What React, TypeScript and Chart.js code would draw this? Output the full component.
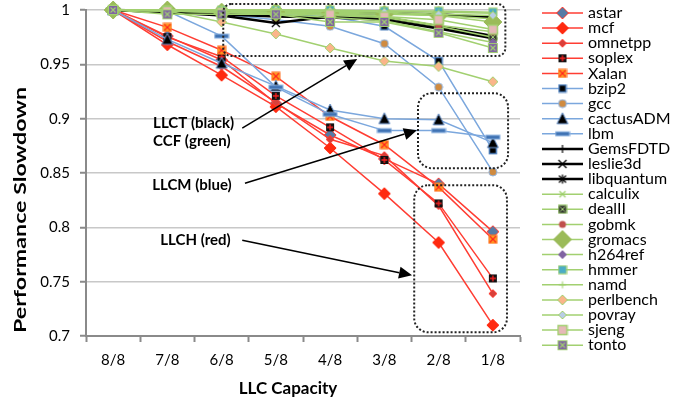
import React, { useEffect, useRef } from 'react';
import { Chart, registerables } from 'chart.js';

Chart.register(...registerables);

// ---------- data ----------
const categories = ['8/8', '7/8', '6/8', '5/8', '4/8', '3/8', '2/8', '1/8'];
const yTicks = [0.7, 0.75, 0.8, 0.85, 0.9, 0.95, 1];

const astar = [1, 0.976, 0.954, 0.914, 0.885, 0.863, 0.84, 0.796];
const mcf = [1, 0.968, 0.94, 0.911, 0.873, 0.831, 0.786, 0.71];
const omnetpp = [1, 0.971, 0.948, 0.915, 0.881, 0.866, 0.82, 0.739];
const soplex = [1, 0.975, 0.957, 0.921, 0.892, 0.862, 0.822, 0.753];
const Xalan = [1, 0.984, 0.963, 0.939, 0.902, 0.876, 0.837, 0.789];

const bzip2 = [1, 0.999, 0.998, 0.996, 0.994, 0.985, 0.953, 0.871];
const gcc = [1, 0.999, 0.996, 0.991, 0.985, 0.969, 0.929, 0.851];
const cactusADM = [1, 0.973, 0.951, 0.93, 0.908, 0.9, 0.899, 0.878];
const lbm = [1, 0.999, 0.976, 0.929, 0.904, 0.889, 0.889, 0.883];

const GemsFDTD = [1, 0.999, 0.998, 0.998, 0.997, 0.997, 0.996, 0.993];
const leslie3d = [1, 0.998, 0.995, 0.988, 0.994, 0.993, 0.985, 0.976];
const libquantum = [1, 0.998, 0.996, 0.994, 0.993, 0.991, 0.983, 0.974];

const calculix = [1, 1, 0.999, 0.999, 0.998, 0.997, 0.995, 0.992];
const dealII = [1, 0.999, 0.998, 0.997, 0.995, 0.993, 0.985, 0.975];
const gobmk = [1, 1, 0.999, 0.998, 0.997, 0.994, 0.986, 0.98];
const gromacs = [1, 1, 0.998, 0.998, 0.997, 0.996, 0.995, 0.989];
const h264ref = [1, 0.999, 0.998, 0.996, 0.993, 0.99, 0.98, 0.97];
const hmmer = [1, 1, 1, 1, 1, 0.999, 0.999, 0.998];
const namd = [1, 1, 1, 1, 0.999, 0.999, 0.998, 0.997];
const perlbench = [1, 0.999, 0.989, 0.978, 0.965, 0.953, 0.948, 0.934];
const povray = [1, 1, 1, 1, 0.999, 0.998, 0.996, 0.995];
const sjeng = [1, 0.999, 0.998, 0.997, 0.996, 0.994, 0.991, 0.982];
const tonto = [1, 0.996, 0.996, 0.996, 0.989, 0.989, 0.979, 0.965];

// ---------- styles ----------
const RED = '#ff3d33';
const BLUE = '#7ba7dd';
const BLACK = '#000000';
const GREEN = '#a2d070';
const FONT = 'Lato, "Open Sans", sans-serif';

type Ctx = CanvasRenderingContext2D;

function mk(w: number, h: number, draw: (ctx: Ctx, cx: number, cy: number) => void) {
  const c = document.createElement('canvas');
  c.width = w;
  c.height = h;
  const ctx = c.getContext('2d') as Ctx;
  draw(ctx, w / 2, h / 2);
  return c;
}
function diamond(ctx: Ctx, cx: number, cy: number, r: number, fill: string, stroke?: string, lw = 1) {
  ctx.beginPath();
  ctx.moveTo(cx, cy - r);
  ctx.lineTo(cx + r, cy);
  ctx.lineTo(cx, cy + r);
  ctx.lineTo(cx - r, cy);
  ctx.closePath();
  ctx.fillStyle = fill;
  ctx.fill();
  if (stroke) {
    ctx.strokeStyle = stroke;
    ctx.lineWidth = lw;
    ctx.stroke();
  }
}
function square(ctx: Ctx, cx: number, cy: number, h: number, fill: string, stroke?: string, lw = 1) {
  ctx.fillStyle = fill;
  ctx.fillRect(cx - h, cy - h, 2 * h, 2 * h);
  if (stroke) {
    ctx.strokeStyle = stroke;
    ctx.lineWidth = lw;
    ctx.strokeRect(cx - h, cy - h, 2 * h, 2 * h);
  }
}
function cross(ctx: Ctx, cx: number, cy: number, r: number, color: string, lw = 1.2) {
  ctx.strokeStyle = color;
  ctx.lineWidth = lw;
  ctx.beginPath();
  ctx.moveTo(cx - r, cy - r);
  ctx.lineTo(cx + r, cy + r);
  ctx.moveTo(cx + r, cy - r);
  ctx.lineTo(cx - r, cy + r);
  ctx.stroke();
}
function plus(ctx: Ctx, cx: number, cy: number, r: number, color: string, lw = 1.2) {
  ctx.strokeStyle = color;
  ctx.lineWidth = lw;
  ctx.beginPath();
  ctx.moveTo(cx - r, cy);
  ctx.lineTo(cx + r, cy);
  ctx.moveTo(cx, cy - r);
  ctx.lineTo(cx, cy + r);
  ctx.stroke();
}

const markers: Record<string, HTMLCanvasElement> = {
  astar: mk(14, 14, (c, x, y) => diamond(c, x, y, 6, '#557ba6', RED, 1)),
  mcf: mk(14, 14, (c, x, y) => diamond(c, x, y, 6, '#ff2a10', '#ff2a10', 1)),
  omnetpp: mk(10, 10, (c, x, y) => diamond(c, x, y, 4, '#d8403a', RED, 1)),
  soplex: mk(10, 10, (c, x, y) => { square(c, x, y, 4, '#111111'); plus(c, x, y, 3, '#ff2020', 1.3); }),
  Xalan: mk(10, 10, (c, x, y) => { square(c, x, y, 4, '#ffa820', '#ff7020', 1); cross(c, x, y, 3, '#ff2020', 1.3); }),
  bzip2: mk(10, 10, (c, x, y) => square(c, x, y, 3.5, '#000000', '#4f81bd', 1.5)),
  gcc: mk(10, 10, (c, x, y) => {
    c.beginPath(); c.arc(x, y, 4, 0, Math.PI * 2);
    c.fillStyle = '#d08b40'; c.fill(); c.strokeStyle = '#8db3e2'; c.lineWidth = 1; c.stroke();
  }),
  cactusADM: mk(14, 14, (c, x, y) => {
    c.beginPath(); c.moveTo(x, y - 6); c.lineTo(x + 5.5, y + 5); c.lineTo(x - 5.5, y + 5); c.closePath();
    c.fillStyle = '#000000'; c.fill(); c.strokeStyle = '#6a95cf'; c.lineWidth = 1; c.stroke();
  }),
  lbm: mk(16, 8, (c, x, y) => { c.fillStyle = '#3f72b3'; c.fillRect(x - 7, y - 2, 14, 4); c.strokeStyle = '#8db3e2'; c.lineWidth = 1; c.strokeRect(x - 7, y - 2, 14, 4); }),
  GemsFDTD: mk(10, 10, (c, x, y) => plus(c, x, y, 4, '#000000', 1.2)),
  leslie3d: mk(12, 12, (c, x, y) => cross(c, x, y, 4, '#000000', 1.3)),
  libquantum: mk(12, 12, (c, x, y) => { cross(c, x, y, 3.5, '#000000', 1.3); plus(c, x, y, 4.5, '#000000', 1.3); }),
  calculix: mk(10, 10, (c, x, y) => cross(c, x, y, 3, '#9ccf69', 1.3)),
  dealII: mk(10, 10, (c, x, y) => { square(c, x, y, 4, '#333333', '#8cc05a', 1); cross(c, x, y, 2.5, '#a9d87a', 1); }),
  gobmk: mk(10, 10, (c, x, y) => { c.beginPath(); c.arc(x, y, 3.5, 0, Math.PI * 2); c.fillStyle = '#c0504d'; c.fill(); }),
  gromacs: mk(20, 20, (c, x, y) => diamond(c, x, y, 9, '#9bbb59', '#9bbb59', 1)),
  h264ref: mk(10, 10, (c, x, y) => diamond(c, x, y, 4, '#8064a2', '#8064a2', 1)),
  hmmer: mk(10, 10, (c, x, y) => square(c, x, y, 4, '#4bacc6', '#a2d070', 1)),
  namd: mk(10, 10, (c, x, y) => plus(c, x, y, 3.5, '#9ccf69', 1)),
  perlbench: mk(12, 12, (c, x, y) => diamond(c, x, y, 5, '#fab58a', '#a2d070', 1)),
  povray: mk(10, 10, (c, x, y) => diamond(c, x, y, 4, '#b9cde5', '#a2d070', 1)),
  sjeng: mk(12, 12, (c, x, y) => square(c, x, y, 4.5, '#e6b9b8', '#a2d070', 1.5)),
  tonto: mk(12, 12, (c, x, y) => { square(c, x, y, 4.5, '#8064a2', '#a2d070', 1); cross(c, x, y, 2.5, '#a2d070', 1.2); }),
};

const seriesTable: { name: string; data: number[]; color: string; width: number }[] = [
  { name: 'astar', data: astar, color: RED, width: 1.5 },
  { name: 'mcf', data: mcf, color: RED, width: 1.5 },
  { name: 'omnetpp', data: omnetpp, color: RED, width: 1.5 },
  { name: 'soplex', data: soplex, color: RED, width: 1.5 },
  { name: 'Xalan', data: Xalan, color: RED, width: 1.5 },
  { name: 'bzip2', data: bzip2, color: BLUE, width: 1.5 },
  { name: 'gcc', data: gcc, color: BLUE, width: 1.5 },
  { name: 'cactusADM', data: cactusADM, color: BLUE, width: 1.5 },
  { name: 'lbm', data: lbm, color: BLUE, width: 1.5 },
  { name: 'GemsFDTD', data: GemsFDTD, color: BLACK, width: 2.5 },
  { name: 'leslie3d', data: leslie3d, color: BLACK, width: 2.5 },
  { name: 'libquantum', data: libquantum, color: BLACK, width: 2.5 },
  { name: 'calculix', data: calculix, color: GREEN, width: 1.5 },
  { name: 'dealII', data: dealII, color: GREEN, width: 1.5 },
  { name: 'gobmk', data: gobmk, color: GREEN, width: 1.5 },
  { name: 'gromacs', data: gromacs, color: GREEN, width: 1.5 },
  { name: 'h264ref', data: h264ref, color: GREEN, width: 1.5 },
  { name: 'hmmer', data: hmmer, color: GREEN, width: 1.5 },
  { name: 'namd', data: namd, color: GREEN, width: 1.5 },
  { name: 'perlbench', data: perlbench, color: GREEN, width: 1.5 },
  { name: 'povray', data: povray, color: GREEN, width: 1.5 },
  { name: 'sjeng', data: sjeng, color: GREEN, width: 1.5 },
  { name: 'tonto', data: tonto, color: GREEN, width: 1.5 },
];

// annotations, in data coordinates (x = category index, y = value)
const boxes = [
  { x0: 2.03, x1: 7.23, y0: 1.0055, y1: 0.9576, r: 8 },
  { x0: 5.62, x1: 7.28, y0: 0.9235, y1: 0.8544, r: 14 },
  { x0: 5.55, x1: 7.26, y0: 0.8388, y1: 0.7034, r: 14 },
];
const arrows = [
  { x0: 2.38, y0: 0.8913, x1: 4.5, y1: 0.9549 },
  { x0: 2.43, y0: 0.8406, x1: 5.6, y1: 0.8894 },
  { x0: 2.38, y0: 0.7881, x1: 5.51, y1: 0.7558 },
];
const notes = [
  { text: 'LLCT (black)', x: 0.737, y: 0.8959 },
  { text: 'CCF (green)', x: 0.737, y: 0.8793 },
  { text: 'LLCM (blue)', x: 0.72, y: 0.8387 },
  { text: 'LLCH (red)', x: 0.87, y: 0.788 },
];

const annotationPlugin = {
  id: 'annots',
  afterDatasetsDraw(chart: any) {
    const { ctx, scales } = chart;
    const xs = scales.x;
    const ys = scales.y;
    const px = (v: number) => xs.getPixelForValue(0) + v * (xs.getPixelForValue(1) - xs.getPixelForValue(0));
    const py = (v: number) => ys.getPixelForValue(v);
    ctx.save();
    // dotted boxes
    ctx.strokeStyle = '#222';
    ctx.lineWidth = 2;
    ctx.setLineDash([2, 2]);
    for (const b of boxes) {
      const x = px(b.x0), y = py(b.y0), w = px(b.x1) - x, h = py(b.y1) - y;
      ctx.beginPath();
      ctx.roundRect(x, y, w, h, b.r);
      ctx.stroke();
    }
    ctx.setLineDash([]);
    // arrows
    ctx.strokeStyle = '#000';
    ctx.fillStyle = '#000';
    ctx.lineWidth = 1.5;
    for (const a of arrows) {
      const x0 = px(a.x0), y0 = py(a.y0), x1 = px(a.x1), y1 = py(a.y1);
      const ang = Math.atan2(y1 - y0, x1 - x0);
      const L = 13, W = 6;
      const bx = x1 - L * Math.cos(ang), by = y1 - L * Math.sin(ang);
      ctx.beginPath();
      ctx.moveTo(x0, y0);
      ctx.lineTo(bx, by);
      ctx.stroke();
      ctx.beginPath();
      ctx.moveTo(x1, y1);
      ctx.lineTo(bx + W * Math.sin(ang), by - W * Math.cos(ang));
      ctx.lineTo(bx - W * Math.sin(ang), by + W * Math.cos(ang));
      ctx.closePath();
      ctx.fill();
    }
    // notes
    ctx.font = `bold 15px ${FONT}`;
    ctx.textAlign = 'left';
    ctx.textBaseline = 'middle';
    for (const n of notes) ctx.fillText(n.text, px(n.x), py(n.y));
    ctx.restore();
  },
  afterDraw(chart: any) {
    const { ctx } = chart;
    ctx.save();
    // legend
    const lx0 = 542, lx1 = 583, tx = 588, top = 13, step = 15.1;
    ctx.font = `16px ${FONT}`;
    ctx.textBaseline = 'middle';
    ctx.textAlign = 'left';
    seriesTable.forEach((s, i) => {
      const y = top + i * step;
      ctx.strokeStyle = s.color;
      ctx.lineWidth = s.width;
      ctx.beginPath();
      ctx.moveTo(lx0, y);
      ctx.lineTo(lx1, y);
      ctx.stroke();
      const m = markers[s.name];
      ctx.drawImage(m, (lx0 + lx1) / 2 - m.width / 2, y - m.height / 2);
      ctx.fillStyle = '#000';
      ctx.fillText(s.name, tx, y);
    });
    // axis titles
    ctx.fillStyle = '#000';
    ctx.font = `bold 17px ${FONT}`;
    ctx.textAlign = 'center';
    ctx.textBaseline = 'middle';
    ctx.fillText('LLC Capacity', 288, 389);
    const yt = 'Performance Slowdown';
    const w = ctx.measureText(yt).width;
    ctx.translate(20.5, 210);
    ctx.rotate(-Math.PI / 2);
    ctx.scale(246 / w, 1);
    ctx.fillText(yt, 0, 0);
    ctx.restore();
  },
};

export default function App() {
  const ref = useRef<HTMLCanvasElement | null>(null);
  useEffect(() => {
    document.body.style.margin = '0';
    const canvas = ref.current;
    if (!canvas) return;
    const n = seriesTable.length;
    const chart = new Chart(canvas, {
      type: 'line',
      data: {
        labels: categories,
        datasets: seriesTable.map((s, i) => ({
          label: s.name,
          data: s.data,
          borderColor: s.color,
          backgroundColor: s.color,
          borderWidth: s.width,
          tension: 0,
          fill: false,
          pointStyle: markers[s.name] as any,
          pointRadius: 5,
          pointHoverRadius: 5,
          clip: false as any,
          order: n - i,
        })),
      },
      options: {
        responsive: false,
        animation: false,
        devicePixelRatio: 1,
        layout: { padding: { top: 10, right: 162, left: 0, bottom: 0 } },
        plugins: {
          legend: { display: false },
          tooltip: { enabled: false },
          title: { display: false },
        },
        scales: {
          x: {
            type: 'category',
            offset: true,
            afterFit: (s: any) => { s.height = 63; s.paddingLeft = 0; s.paddingRight = 0; },
            grid: {
              display: true,
              offset: true,
              drawOnChartArea: false,
              drawTicks: true,
              tickLength: 6,
              tickColor: '#8a8a8a',
              tickWidth: 2,
              color: '#8a8a8a',
            },
            border: { display: true, color: '#8a8a8a', width: 2 },
            ticks: { color: '#000', font: { family: FONT, size: 15 }, padding: 9, autoSkip: false, maxRotation: 0 },
          },
          y: {
            type: 'linear',
            min: 0.7,
            max: 1,
            afterFit: (s: any) => { s.width = 86; s.paddingTop = 0; s.paddingBottom = 0; },
            afterBuildTicks: (s: any) => { s.ticks = yTicks.map((v) => ({ value: v })); },
            grid: { color: '#c8c8c8', lineWidth: 1.5, tickLength: 6, tickColor: '#8a8a8a', tickWidth: 2 },
            border: { display: true, color: '#8a8a8a', width: 2 },
            ticks: {
              color: '#000',
              font: { family: FONT, size: 15 },
              padding: 10,
              callback: (v: any) => String(Number(Number(v).toFixed(2))),
            },
          },
        },
      },
      plugins: [annotationPlugin],
    });
    return () => chart.destroy();
  }, []);
  return (
    <div style={{ width: 682, height: 399, position: 'relative' }}>
      <canvas ref={ref} width={682} height={399} style={{ display: 'block' }} />
    </div>
  );
}
